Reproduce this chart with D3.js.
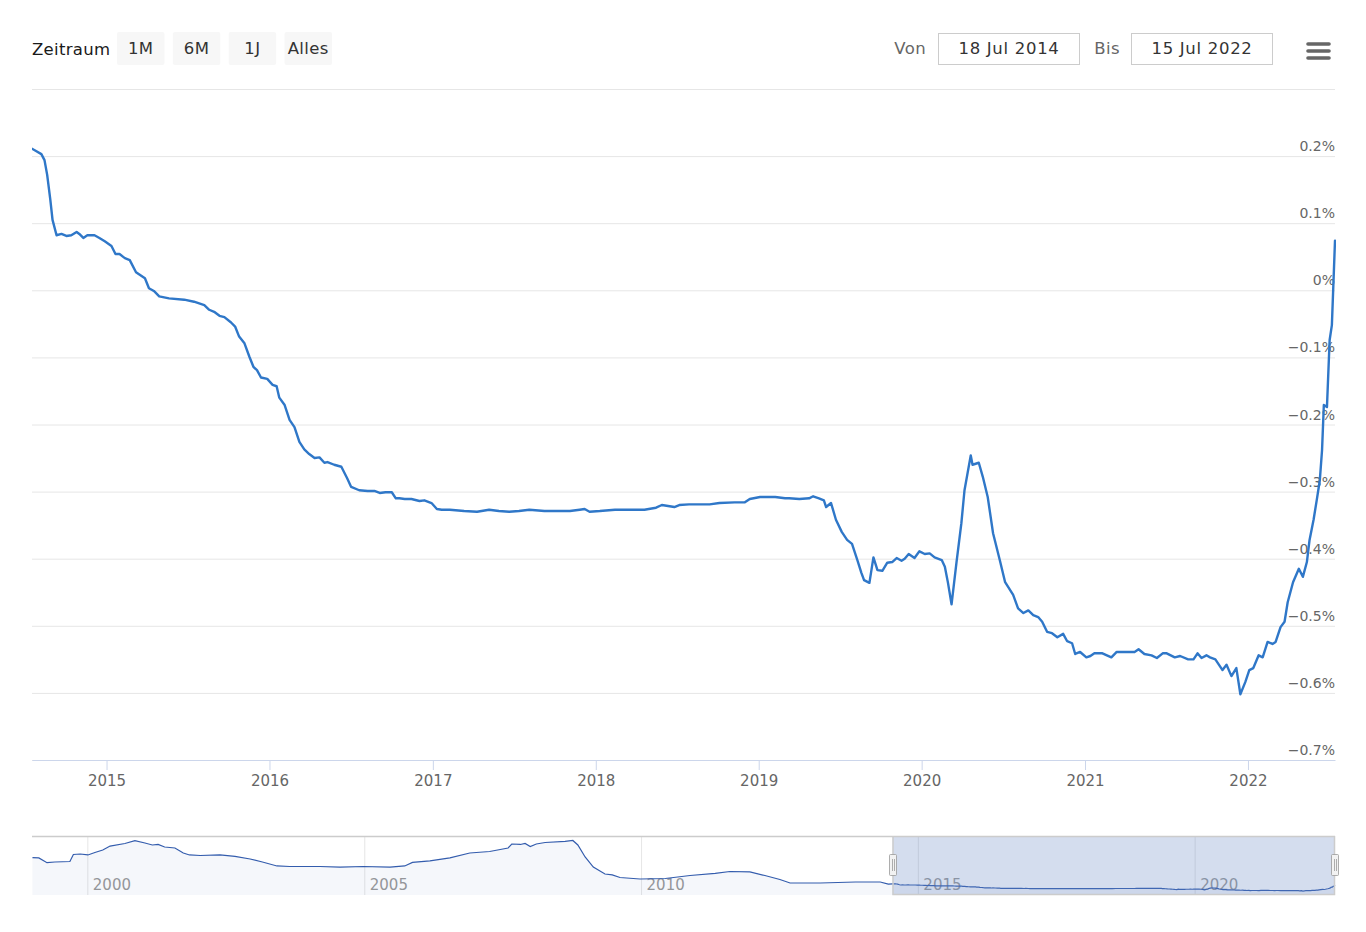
<!DOCTYPE html>
<html>
<head>
<meta charset="utf-8">
<script src="https://cdn.jsdelivr.net/npm/d3@7/dist/d3.min.js"></script>
<style>
  html, body { margin: 0; padding: 0; background: #fff; }
  svg { display: block; font-family: "DejaVu Sans", Verdana, sans-serif; }
</style>
</head>
<body>
<svg id="chart" width="1366" height="932"></svg>
<script>
// ---------- DATA ----------
const rangeButtons = ["1M", "6M", "1J", "Alles"];
const fromLabel = "18 Jul 2014";
const toLabel = "15 Jul 2022";
const yTicks = [0.3, 0.2, 0.1, 0, -0.1, -0.2, -0.3, -0.4, -0.5, -0.6, -0.7];
const xTickYears = [2015, 2016, 2017, 2018, 2019, 2020, 2021, 2022];
const navTickYears = [2000, 2005, 2010, 2015, 2020];

const mainDates = ["2014-07-18","2014-07-26","2014-08-08","2014-08-15","2014-08-21","2014-08-28","2014-09-02","2014-09-11","2014-09-22","2014-10-03","2014-10-14","2014-10-26","2014-11-01","2014-11-10","2014-11-19","2014-12-05","2014-12-16","2014-12-28","2015-01-12","2015-01-21","2015-01-30","2015-02-11","2015-02-22","2015-03-08","2015-03-28","2015-04-06","2015-04-17","2015-04-29","2015-05-21","2015-06-24","2015-07-16","2015-08-08","2015-08-19","2015-08-30","2015-09-11","2015-09-22","2015-10-07","2015-10-16","2015-10-25","2015-11-06","2015-11-17","2015-11-26","2015-12-04","2015-12-13","2015-12-27","2016-01-08","2016-01-17","2016-01-23","2016-02-04","2016-02-15","2016-02-26","2016-03-08","2016-03-19","2016-03-30","2016-04-11","2016-04-22","2016-05-03","2016-05-10","2016-05-25","2016-06-10","2016-06-23","2016-07-02","2016-07-20","2016-08-08","2016-08-23","2016-09-04","2016-09-17","2016-10-01","2016-10-10","2016-10-18","2016-10-30","2016-11-14","2016-12-02","2016-12-13","2016-12-29","2017-01-10","2017-01-21","2017-02-08","2017-03-12","2017-04-10","2017-05-07","2017-05-29","2017-06-21","2017-07-13","2017-08-05","2017-09-08","2017-10-12","2017-11-04","2017-11-26","2017-12-07","2017-12-18","2018-01-10","2018-02-13","2018-03-17","2018-04-20","2018-05-16","2018-05-29","2018-06-26","2018-07-07","2018-07-29","2018-09-13","2018-10-05","2018-11-08","2018-12-01","2018-12-12","2019-01-04","2019-02-07","2019-03-01","2019-03-10","2019-04-02","2019-04-24","2019-05-03","2019-05-16","2019-05-27","2019-06-01","2019-06-12","2019-06-23","2019-07-06","2019-07-18","2019-07-29","2019-08-10","2019-08-19","2019-08-25","2019-09-06","2019-09-15","2019-09-24","2019-10-05","2019-10-16","2019-10-27","2019-11-06","2019-11-17","2019-11-24","2019-12-03","2019-12-16","2019-12-27","2020-01-08","2020-01-19","2020-01-30","2020-02-15","2020-02-22","2020-02-29","2020-03-08","2020-03-19","2020-03-30","2020-04-06","2020-04-20","2020-04-24","2020-05-08","2020-05-17","2020-05-28","2020-06-09","2020-06-24","2020-07-06","2020-07-24","2020-08-04","2020-08-16","2020-08-27","2020-09-07","2020-09-18","2020-09-27","2020-10-08","2020-10-19","2020-10-31","2020-11-13","2020-11-22","2020-12-03","2020-12-10","2020-12-21","2021-01-04","2021-01-13","2021-01-22","2021-02-09","2021-03-01","2021-03-13","2021-03-26","2021-04-22","2021-05-01","2021-05-14","2021-05-30","2021-06-11","2021-06-24","2021-07-03","2021-07-21","2021-08-02","2021-08-20","2021-09-01","2021-09-10","2021-09-19","2021-09-30","2021-10-08","2021-10-20","2021-11-05","2021-11-14","2021-11-25","2021-12-06","2021-12-15","2021-12-26","2022-01-04","2022-01-13","2022-01-25","2022-02-03","2022-02-14","2022-02-25","2022-03-04","2022-03-15","2022-03-24","2022-03-31","2022-04-12","2022-04-25","2022-05-04","2022-05-13","2022-05-19","2022-05-28","2022-06-04","2022-06-11","2022-06-16","2022-06-20","2022-06-27","2022-07-03","2022-07-08","2022-07-15"];

const mainValues = [0.211,0.208,0.203,0.194,0.172,0.135,0.105,0.082,0.084,0.081,
0.082,0.087,0.084,0.078,0.082,0.082,0.078,0.073,0.066,0.054,
0.054,0.048,0.045,0.027,0.018,0.003,-0.001,-0.009,-0.012,-0.014,
-0.017,-0.022,-0.029,-0.032,-0.038,-0.040,-0.048,-0.054,-0.069,-0.079,
-0.099,-0.114,-0.119,-0.130,-0.132,-0.141,-0.143,-0.160,-0.171,-0.193,
-0.204,-0.226,-0.237,-0.244,-0.250,-0.249,-0.257,-0.256,-0.260,-0.263,
-0.280,-0.293,-0.298,-0.299,-0.299,-0.302,-0.301,-0.301,-0.310,-0.310,
-0.311,-0.311,-0.314,-0.313,-0.317,-0.326,-0.327,-0.327,-0.329,-0.330,
-0.327,-0.329,-0.330,-0.329,-0.327,-0.329,-0.329,-0.329,-0.327,-0.326,
-0.330,-0.329,-0.327,-0.327,-0.327,-0.324,-0.320,-0.323,-0.320,-0.319,
-0.319,-0.317,-0.316,-0.316,-0.311,-0.308,-0.308,-0.310,-0.310,-0.311,
-0.310,-0.307,-0.310,-0.313,-0.323,-0.317,-0.342,-0.360,-0.372,-0.378,
-0.402,-0.421,-0.432,-0.436,-0.398,-0.417,-0.418,-0.406,-0.405,-0.399,
-0.403,-0.400,-0.393,-0.399,-0.389,-0.393,-0.392,-0.398,-0.402,-0.412,
-0.436,-0.468,-0.406,-0.347,-0.298,-0.246,-0.260,-0.257,-0.278,-0.308,
-0.362,-0.402,-0.435,-0.454,-0.474,-0.481,-0.477,-0.484,-0.487,-0.494,
-0.509,-0.511,-0.517,-0.512,-0.523,-0.526,-0.542,-0.539,-0.547,-0.545,
-0.541,-0.541,-0.547,-0.539,-0.539,-0.539,-0.535,-0.542,-0.544,-0.548,
-0.541,-0.541,-0.547,-0.545,-0.550,-0.550,-0.541,-0.548,-0.544,-0.547,
-0.550,-0.566,-0.558,-0.575,-0.563,-0.602,-0.584,-0.566,-0.563,-0.544,
-0.547,-0.524,-0.527,-0.524,-0.502,-0.494,-0.465,-0.435,-0.415,-0.427,
-0.405,-0.372,-0.342,-0.313,-0.283,-0.238,-0.171,-0.174,-0.074,-0.052,0.074];

// longer history shown only in the navigator
const histDates = ["1999-01-04","1999-02-15","1999-04-10","1999-06-01","1999-09-08","1999-10-01","1999-11-15","2000-01-05","2000-02-20","2000-04-12","2000-05-30","2000-09-05","2000-11-10","2001-01-15","2001-03-05","2001-04-12","2001-05-25","2001-08-01","2001-09-25","2001-11-05","2002-01-15","2002-05-25","2002-09-01","2002-12-10","2003-03-01","2003-06-05","2003-08-28","2004-03-15","2004-07-25","2004-12-25","2005-06-20","2005-09-25","2005-11-15","2006-03-10","2006-07-20","2006-11-28","2007-04-08","2007-08-08","2007-09-01","2007-10-28","2007-11-28","2008-01-01","2008-02-10","2008-04-08","2008-08-18","2008-10-08","2008-11-10","2008-12-28","2009-02-20","2009-05-08","2009-06-25","2009-08-15","2009-12-25","2010-06-10","2010-11-20","2011-05-05","2011-08-10","2011-12-20","2012-03-28","2012-07-05","2012-09-10","2013-03-28","2013-11-15","2014-04-28","2014-06-20"];
const histValues = [3.18,3.15,2.61,2.69,2.75,3.54,3.60,3.49,3.77,4.05,4.50,4.79,5.11,4.85,4.62,4.68,4.39,4.28,3.71,3.49,3.43,3.49,3.32,3.03,2.69,2.24,2.18,2.18,2.12,2.18,2.12,2.24,2.64,2.81,3.15,3.71,3.88,4.28,4.73,4.68,4.79,4.45,4.73,4.90,5.02,5.13,4.62,3.26,2.12,1.33,1.22,0.93,0.76,0.82,1.16,1.39,1.61,1.56,1.16,0.71,0.31,0.31,0.42,0.42,0.19];

// ---------- LAYOUT ----------
const W = 1366, H = 932;
const plotL = 32, plotR = 1335, plotT = 89, plotB = 760;
const navT = 836, navB = 895;
const lineColor = "#2f77c8";
const parse = d3.timeParse("%Y-%m-%d");

const mainData = mainDates.slice(0, Math.min(mainDates.length, mainValues.length))
  .map((d, i) => ({ date: parse(d), value: mainValues[i] }));
const histData = histDates.slice(0, Math.min(histDates.length, histValues.length))
  .map((d, i) => ({ date: parse(d), value: histValues[i] }));
const navData = histData.concat(mainData);

const svg = d3.select("#chart");

// ---------- RANGE SELECTOR ----------
const toolbar = svg.append("g");
toolbar.append("text").attr("x", 32).attr("y", 55)
  .attr("font-size", 16.5).attr("letter-spacing", 0.3).attr("fill", "#1a1a1a").text("Zeitraum");

const btnX = d3.scaleBand().domain(rangeButtons).range([117, 332]).paddingInner(0.15).paddingOuter(0);
const btn = toolbar.selectAll("g.btn").data(rangeButtons).join("g").attr("class", "btn");
btn.append("rect")
  .attr("x", d => btnX(d)).attr("y", 32).attr("width", btnX.bandwidth()).attr("height", 33)
  .attr("rx", 2).attr("fill", "#f7f7f7");
btn.append("text")
  .attr("x", d => btnX(d) + btnX.bandwidth() / 2).attr("y", 54)
  .attr("text-anchor", "middle").attr("font-size", 16.5).attr("letter-spacing", 0.4)
  .attr("fill", "#333").text(d => d);

toolbar.append("text").attr("x", 926).attr("y", 54).attr("text-anchor", "end")
  .attr("font-size", 16.5).attr("letter-spacing", 0.4).attr("fill", "#666").text("Von");
toolbar.append("rect").attr("x", 938.5).attr("y", 33.5).attr("width", 141).attr("height", 31)
  .attr("fill", "#fff").attr("stroke", "#cccccc");
toolbar.append("text").attr("x", 1009).attr("y", 54).attr("text-anchor", "middle")
  .attr("font-size", 16.5).attr("letter-spacing", 0.7).attr("fill", "#333").text(fromLabel);

toolbar.append("text").attr("x", 1120).attr("y", 54).attr("text-anchor", "end")
  .attr("font-size", 16.5).attr("letter-spacing", 0.4).attr("fill", "#666").text("Bis");
toolbar.append("rect").attr("x", 1131.5).attr("y", 33.5).attr("width", 141).attr("height", 31)
  .attr("fill", "#fff").attr("stroke", "#cccccc");
toolbar.append("text").attr("x", 1202).attr("y", 54).attr("text-anchor", "middle")
  .attr("font-size", 16.5).attr("letter-spacing", 0.7).attr("fill", "#333").text(toLabel);

// hamburger menu
[44, 51, 58].forEach(yy => {
  toolbar.append("line").attr("x1", 1308).attr("x2", 1329).attr("y1", yy).attr("y2", yy)
    .attr("stroke", "#666").attr("stroke-width", 3.6).attr("stroke-linecap", "round");
});

// ---------- MAIN CHART ----------
const x = d3.scaleTime()
  .domain([parse("2014-07-18"), parse("2022-07-15")])
  .range([plotL, plotR]);
const y = d3.scaleLinear().domain([-0.7, 0.3]).range([plotB, plotT]);

const fmtPct = d => d === 0 ? "0%" : d3.format(".1f")(d) + "%";

const yAxis = d3.axisRight(y).tickValues(yTicks).tickSizeInner(-(plotR - plotL)).tickSizeOuter(0).tickFormat(fmtPct);
const gy = svg.append("g").attr("transform", `translate(${plotR},0)`).call(yAxis);
gy.select(".domain").remove();
gy.selectAll(".tick line").attr("stroke", "#e6e6e6").attr("stroke-width", 1);
gy.selectAll(".tick text")
  .attr("x", 0).attr("dy", -5.5).attr("text-anchor", "end")
  .attr("font-size", 14).attr("font-family", "DejaVu Sans").attr("fill", "#666")
  .style("display", d => d === 0.3 ? "none" : null);

const xAxis = d3.axisBottom(x)
  .tickValues(xTickYears.map(yr => new Date(yr, 0, 1)))
  .tickFormat(d3.timeFormat("%Y")).tickSizeInner(10).tickSizeOuter(0).tickPadding(5);
const gx = svg.append("g").attr("transform", `translate(0,${plotB})`).call(xAxis);
gx.select(".domain").attr("stroke", "#ccd6eb");
gx.selectAll(".tick line").attr("stroke", "#ccd6eb");
gx.selectAll(".tick text").attr("font-size", 15).attr("font-family", "DejaVu Sans").attr("fill", "#666");

svg.append("clipPath").attr("id", "plotClip").append("rect")
  .attr("x", plotL).attr("y", plotT - 5).attr("width", plotR - plotL + 1).attr("height", plotB - plotT + 5);

const line = d3.line().x(d => x(d.date)).y(d => y(d.value)).curve(d3.curveLinear);
svg.append("path").datum(mainData)
  .attr("clip-path", "url(#plotClip)")
  .attr("d", line).attr("fill", "none").attr("stroke", lineColor)
  .attr("stroke-width", 2.4).attr("stroke-linejoin", "round").attr("stroke-linecap", "round");

// ---------- NAVIGATOR ----------
const nx = d3.scaleTime().domain([parse("1999-01-01"), parse("2022-07-15")]).range([plotL, plotR]);
const ny = d3.scaleLinear().domain([-0.6, 5.3]).range([891, 839]);

const nav = svg.append("g");
const navAxis = d3.axisBottom(nx)
  .tickValues(navTickYears.map(yr => new Date(yr, 0, 1)))
  .tickFormat(d3.timeFormat("%Y")).tickSizeInner(navB - navT).tickSizeOuter(0).tickPadding(0);
const gnx = nav.append("g").attr("transform", `translate(0,${navT})`).call(navAxis);
gnx.select(".domain").remove();
gnx.selectAll(".tick line").attr("stroke", "#e6e6e6");
gnx.selectAll(".tick text")
  .attr("y", 0).attr("dy", 0).attr("transform", "translate(0,54)")
  .attr("x", 5).attr("text-anchor", "start")
  .attr("font-size", 15).attr("font-family", "DejaVu Sans").attr("fill", "#999");

const area = d3.area().x(d => nx(d.date)).y0(navB).y1(d => ny(d.value));
nav.append("path").datum(navData).attr("d", area).attr("fill", "rgba(51,92,173,0.05)");
nav.append("path").datum(navData)
  .attr("d", d3.line().x(d => nx(d.date)).y(d => ny(d.value)))
  .attr("fill", "none").attr("stroke", "#335cad").attr("stroke-width", 1.2);

const selL = nx(parse(mainDates[0])), selR = nx(parse(mainDates[mainDates.length - 1]));
nav.append("rect").attr("x", selL).attr("y", navT).attr("width", selR - selL).attr("height", navB - navT)
  .attr("fill", "rgba(102,133,194,0.28)");

nav.append("path")
  .attr("d", `M${plotL},${navT + 0.5} L${plotR},${navT + 0.5} M${selL + 0.5},${navT} L${selL + 0.5},${navB - 0.5} L${selR - 0.5},${navB - 0.5} L${selR - 0.5},${navT}`)
  .attr("fill", "none").attr("stroke", "#cccccc").attr("stroke-width", 1.5);

[selL, selR].forEach(hx => {
  const g = nav.append("g").attr("transform", `translate(${Math.round(hx)},0)`);
  g.append("rect").attr("x", -3.5).attr("y", 854.5).attr("width", 7).attr("height", 21)
    .attr("rx", 1).attr("fill", "#f2f2f2").attr("stroke", "#999").attr("stroke-width", 0.8);
  [-1, 1].forEach(dx => g.append("line").attr("x1", dx + 0.5).attr("x2", dx + 0.5)
    .attr("y1", 859).attr("y2", 871).attr("stroke", "#999").attr("stroke-width", 0.8));
});
</script>
</body>
</html>
